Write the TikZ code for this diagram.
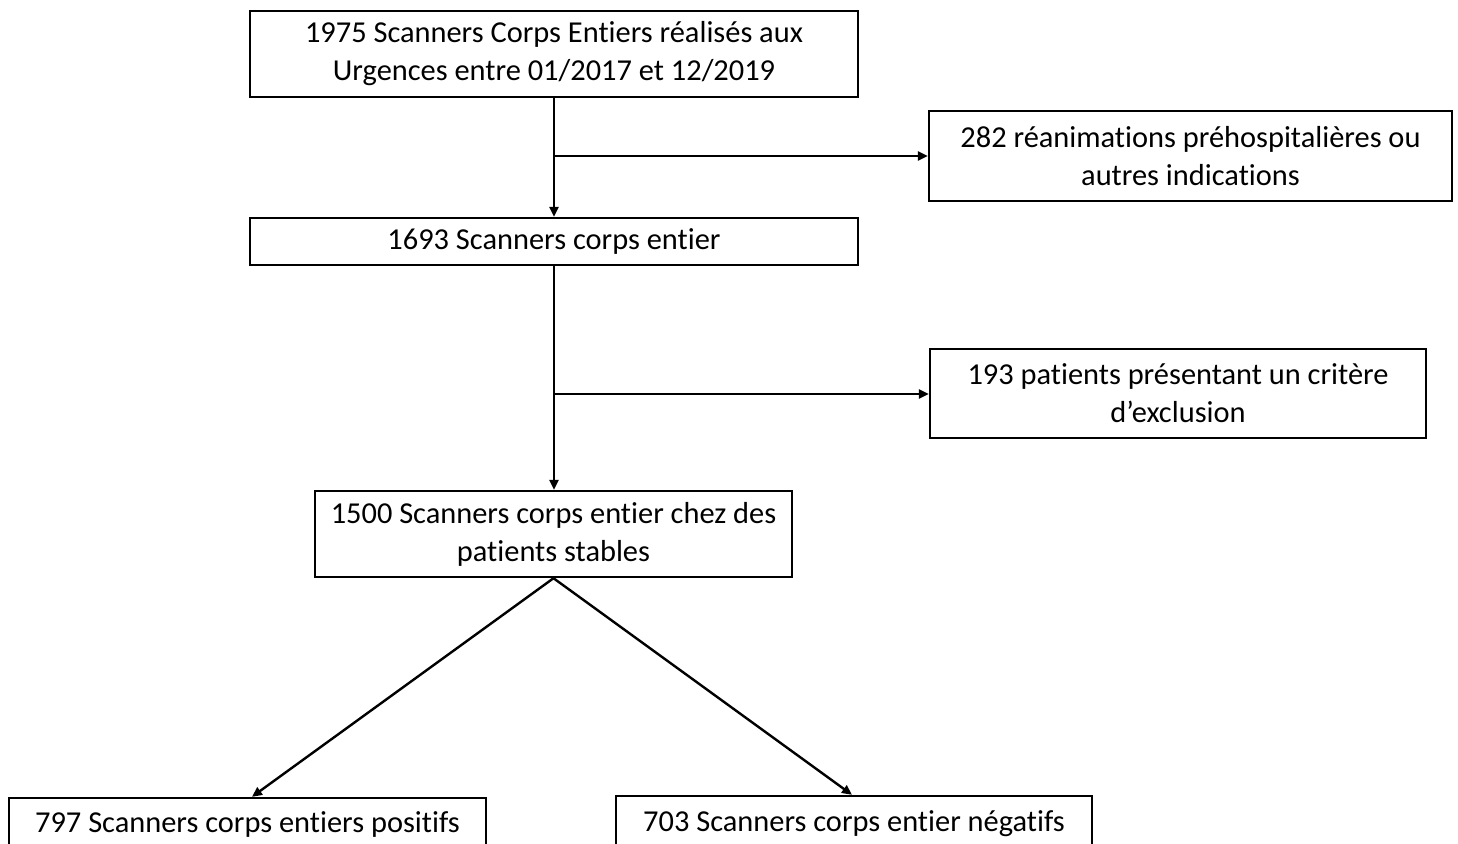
\documentclass[tikz,border=0pt]{standalone}
\usepackage{fontspec}
\setmainfont{Carlito}[Ligatures={NoCommon}]
\usetikzlibrary{arrows.meta}
\begin{document}
\begin{tikzpicture}[x=0.5pt,y=-0.5pt,
  box/.style={draw=black,line width=1.2pt,fill=white,align=center,inner sep=0pt,
    font=\fontsize{15.2pt}{19pt}\selectfont,text=black},
  conn/.style={line width=1.2pt,-{Triangle[length=5pt,width=4.5pt]}}]
\useasboundingbox (0,0) rectangle (1458,843);
\fill[white] (0,0) rectangle (1458,843);
\node[box,minimum width=304pt,minimum height=43pt] (b1) at (554,54) {1975 Scanners Corps Entiers réalisés aux\\Urgences entre 01/2017 et 12/2019};
\node[box,minimum width=261.5pt,minimum height=45pt] (b2) at (1190.5,156) {282 réanimations préhospitalières ou\\autres indications};
\node[box,minimum width=304pt,minimum height=23.5pt] (b3) at (554,241.5) {1693 Scanners corps entier};
\node[box,minimum width=248pt,minimum height=44.5pt] (b4) at (1178,393.5) {193 patients présentant un critère\\d’exclusion};
\node[box,minimum width=238.5pt,minimum height=43pt] (b5) at (553.5,534) {1500 Scanners corps entier chez des\\patients stables};
\node[box,minimum width=238.5pt,minimum height=26pt] (b6) at (247.5,824) {797 Scanners corps entiers positifs};
\node[box,minimum width=238pt,minimum height=28pt] (b7) at (854,824) {703 Scanners corps entier négatifs};
\coordinate (j1) at (554,156);
\coordinate (j2) at (554,394);
\coordinate (t6) at (252,0);
\coordinate (t7) at (852,0);
\draw[conn] (b1.south -| j1) -- (b3.north -| j1);
\draw[conn] (j1) -- (b2.west |- j1);
\draw[conn] (b3.south -| j2) -- (b5.north -| j2);
\draw[conn] (j2) -- (b4.west |- j2);
\draw[conn] (b5.south) -- (t6 |- b6.north);
\draw[conn] (b5.south) -- (t7 |- b7.north);
\end{tikzpicture}
\end{document}
